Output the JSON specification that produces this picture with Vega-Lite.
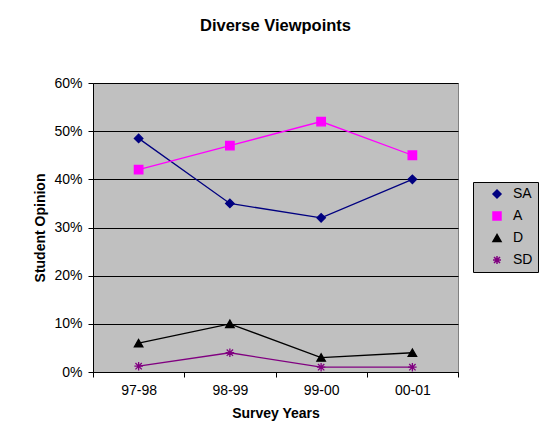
{
  "$schema": "https://vega.github.io/schema/vega-lite/v6.json",
  "width": 365,
  "height": 289,
  "autosize": {"type": "none"},
  "padding": {"left": 93, "top": 83, "right": 90, "bottom": 76},
  "background": "white",
  "title": {
    "text": "Diverse Viewpoints",
    "font": "Liberation Sans",
    "fontSize": 16.5,
    "fontWeight": "bold",
    "color": "black",
    "anchor": "middle",
    "offset": 42
  },
  "data": {
    "values": [
      {"year": "97-98", "series": "SA", "value": 0.485},
      {"year": "98-99", "series": "SA", "value": 0.35},
      {"year": "99-00", "series": "SA", "value": 0.32},
      {"year": "00-01", "series": "SA", "value": 0.40},
      {"year": "97-98", "series": "A", "value": 0.42},
      {"year": "98-99", "series": "A", "value": 0.47},
      {"year": "99-00", "series": "A", "value": 0.52},
      {"year": "00-01", "series": "A", "value": 0.45},
      {"year": "97-98", "series": "D", "value": 0.06},
      {"year": "98-99", "series": "D", "value": 0.10},
      {"year": "99-00", "series": "D", "value": 0.03},
      {"year": "00-01", "series": "D", "value": 0.04},
      {"year": "97-98", "series": "SD", "value": 0.012},
      {"year": "98-99", "series": "SD", "value": 0.04},
      {"year": "99-00", "series": "SD", "value": 0.01},
      {"year": "00-01", "series": "SD", "value": 0.01}
    ]
  },
  "encoding": {
    "x": {
      "field": "year",
      "type": "ordinal",
      "sort": ["97-98", "98-99", "99-00", "00-01"],
      "scale": {"type": "band", "paddingInner": 0, "paddingOuter": 0},
      "axis": {
        "title": "Survey Years",
        "labelAngle": 0,
        "tickBand": "extent",
        "grid": false,
        "domainColor": "black",
        "tickColor": "black",
        "tickSize": 5,
        "labelPadding": 6,
        "titlePadding": 9,
        "labelFont": "Liberation Sans",
        "labelFontSize": 14,
        "labelColor": "black",
        "titleFont": "Liberation Sans",
        "titleFontSize": 14,
        "titleFontWeight": "bold",
        "titleColor": "black"
      }
    },
    "y": {
      "field": "value",
      "type": "quantitative",
      "scale": {"domain": [0, 0.6], "nice": false},
      "axis": {
        "title": "Student Opinion",
        "format": ".0%",
        "values": [0, 0.1, 0.2, 0.3, 0.4, 0.5, 0.6],
        "grid": true,
        "gridColor": "black",
        "gridOpacity": 1,
        "domainColor": "black",
        "tickColor": "black",
        "tickSize": 5,
        "labelPadding": 6,
        "titlePadding": 6,
        "labelFont": "Liberation Sans",
        "labelFontSize": 14,
        "labelColor": "black",
        "titleFont": "Liberation Sans",
        "titleFontSize": 14,
        "titleFontWeight": "bold",
        "titleColor": "black"
      }
    },
    "color": {
      "field": "series",
      "type": "nominal",
      "scale": {"domain": ["SA", "A", "D", "SD"], "range": ["#000080", "#ff00ff", "#000000", "#800080"]}
    }
  },
  "layer": [
    {
      "mark": {"type": "line", "strokeWidth": 1.3}
    },
    {
      "mark": {"type": "point", "filled": true, "opacity": 1, "size": 72, "strokeWidth": 1.3, "stroke": {"expr": "scale('color', datum.series)"}},
      "encoding": {
        "shape": {
          "field": "series",
          "type": "nominal",
          "scale": {
            "domain": ["SA", "A", "D", "SD"],
            "range": [
              "diamond",
              "square",
              "triangle-up",
              "M-1,0L1,0M0,-1L0,1M-0.75,-0.75L0.75,0.75M-0.75,0.75L0.75,-0.75"
            ]
          }
        }
      }
    }
  ],
  "config": {
    "view": {"fill": "#c0c0c0", "stroke": "#808080", "strokeWidth": 1},
    "legend": {
      "title": null,
      "orient": "none",
      "legendX": 380,
      "legendY": 99,
      "fillColor": "#c0c0c0",
      "strokeColor": "black",
      "padding": 5,
      "symbolOffset": 12,
      "symbolSize": 64,
      "labelOffset": 9,
      "rowPadding": 8,
      "labelFont": "Liberation Sans",
      "labelFontSize": 14,
      "labelColor": "black"
    }
  }
}
